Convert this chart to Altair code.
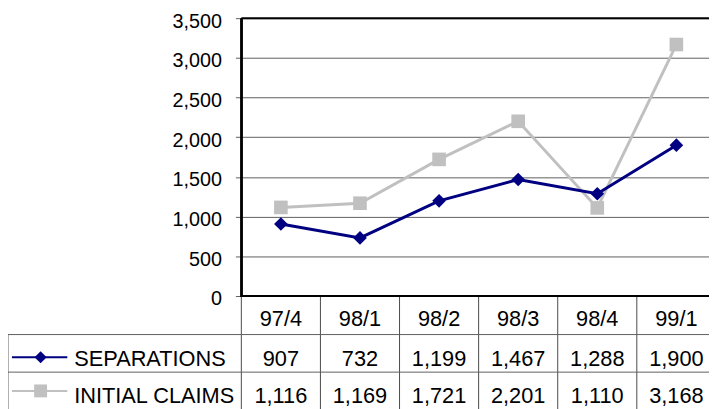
import altair as alt
import pandas as pd

quarters = ["97/4", "98/1", "98/2", "98/3", "98/4", "99/1"]
separations = [907, 732, 1199, 1467, 1288, 1900]
initial_claims = [1116, 1169, 1721, 2201, 1110, 3168]
y_ticks = [0, 500, 1000, 1500, 2000, 2500, 3000, 3500]
series_names = ["SEPARATIONS", "INITIAL CLAIMS"]

FONT = "Liberation Sans"
FS = 22
AFS = 20
NAVY = "#000080"
GRAY = "#C0C0C0"

idx = [i + 0.5 for i in range(len(quarters))]
df_sep = pd.DataFrame({"q": quarters, "x": idx, "v": separations})
df_ic = pd.DataFrame({"q": quarters, "x": idx, "v": initial_claims})
df_bounds = pd.DataFrame({"b": list(range(len(quarters) + 1))})
one = pd.DataFrame({"b": [0]})

xs = alt.Scale(domain=[0, len(quarters)], range=[0, 480], nice=False, zero=False)
ys = alt.Scale(domain=[0, 3500], nice=False)

X = alt.X("x:Q", scale=xs, axis=None)
Y = alt.Y("v:Q", scale=ys, axis=alt.Axis(
    values=y_ticks, labelExpr="format(datum.value, ',')", title=None, grid=True,
    gridColor="#5f5f5f", gridWidth=1, tickColor="#5f5f5f", tickSize=6,
    domainColor="#000000", domainWidth=2, labelFont=FONT, labelFontSize=AFS,
    labelColor="#000000", labelPadding=14, labelOffset=3))

ic_line = alt.Chart(df_ic).mark_line(color=GRAY, strokeWidth=3).encode(x=X, y=Y)
ic_pts = alt.Chart(df_ic).mark_point(shape="square", filled=True, color=GRAY,
                                     size=190, opacity=1).encode(x=X, y=Y)
sep_line = alt.Chart(df_sep).mark_line(color=NAVY, strokeWidth=3).encode(x=X, y=Y)
sep_pts = alt.Chart(df_sep).mark_point(shape="diamond", filled=True, color=NAVY,
                                       size=190, opacity=1).encode(x=X, y=Y)

top_rule = alt.Chart(pd.DataFrame({"v": [3500]})).mark_rule(color="#000000", strokeWidth=2).encode(y=Y)
bottom_rule = alt.Chart(pd.DataFrame({"v": [0]})).mark_rule(color="#000000", strokeWidth=2).encode(y=Y)
left_rule = alt.Chart(one).mark_rule(color="#000000", strokeWidth=2.5).encode(
    x=alt.X("b:Q", scale=xs, axis=None), y=alt.value(0), y2=alt.value(282))

# data table
vlines = alt.Chart(df_bounds).mark_rule(color="#4a4a4a", strokeWidth=1).encode(
    x=alt.X("b:Q", scale=xs, axis=None), y=alt.value(282), y2=alt.value(400))


def hline(yy):
    return alt.Chart(one).mark_rule(color="#5f5f5f", strokeWidth=1).encode(
        x=alt.value(-236), x2=alt.value(480), y=alt.value(yy))


left_border = alt.Chart(one).mark_rule(color="#5f5f5f", strokeWidth=1).encode(
    x=alt.value(-236), y=alt.value(320), y2=alt.value(400))

txt_kw = dict(font=FONT, fontSize=FS, color="#000000", baseline="middle")
hdr = alt.Chart(df_sep).mark_text(align="center", **txt_kw).encode(
    x=X, y=alt.value(304.5), text="q:N")
sep_txt = alt.Chart(df_sep).mark_text(align="center", **txt_kw).encode(
    x=X, y=alt.value(344.5), text=alt.Text("v:Q", format=","))
ic_txt = alt.Chart(df_ic).mark_text(align="center", **txt_kw).encode(
    x=X, y=alt.value(382), text=alt.Text("v:Q", format=","))

name_sep = alt.Chart(pd.DataFrame({"name": [series_names[0]]})).mark_text(
    align="left", **txt_kw).encode(x=alt.value(-169), y=alt.value(344.5), text="name:N")
name_ic = alt.Chart(pd.DataFrame({"name": [series_names[1]]})).mark_text(
    align="left", **txt_kw).encode(x=alt.value(-169), y=alt.value(382), text="name:N")

leg_sep_line = alt.Chart(one).mark_rule(color=NAVY, strokeWidth=2).encode(
    x=alt.value(-232), x2=alt.value(-176), y=alt.value(343))
leg_sep_pt = alt.Chart(one).mark_point(shape="diamond", filled=True, color=NAVY,
                                       size=150, opacity=1).encode(
    x=alt.value(-203), y=alt.value(343))
leg_ic_line = alt.Chart(one).mark_rule(color=GRAY, strokeWidth=2).encode(
    x=alt.value(-232), x2=alt.value(-176), y=alt.value(377))
leg_ic_pt = alt.Chart(one).mark_point(shape="square", filled=True, color=GRAY,
                                      size=170, opacity=1).encode(
    x=alt.value(-203), y=alt.value(377))

chart = alt.layer(
    ic_line, top_rule, bottom_rule, left_rule, vlines, hline(320), hline(358), left_border,
    ic_pts, sep_line, sep_pts, hdr, sep_txt, ic_txt, name_sep, name_ic,
    leg_sep_line, leg_sep_pt, leg_ic_line, leg_ic_pt,
).properties(
    width=473, height=281,
    autosize=alt.AutoSizeParams(type="none"),
    padding={"left": 236, "top": 8, "right": 0, "bottom": 112},
).configure_view(stroke=None).configure(background="#ffffff")

chart.save("out.html", embed_options={"renderer": "svg", "actions": False})
